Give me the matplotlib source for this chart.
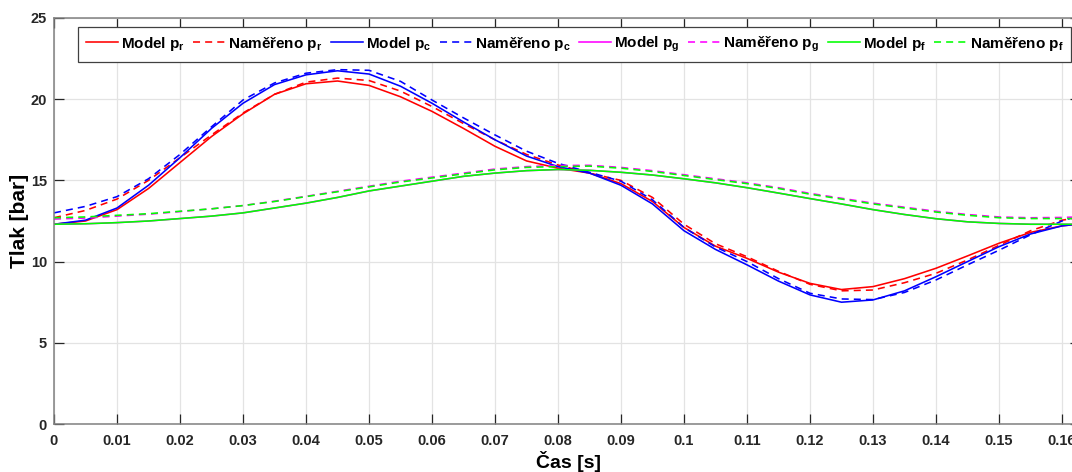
import matplotlib
matplotlib.use("Agg")
import matplotlib.pyplot as plt

plt.rcParams["font.family"] = ["Liberation Sans", "DejaVu Sans"]
plt.rcParams["font.weight"] = "bold"
plt.rcParams["mathtext.fontset"] = "custom"
plt.rcParams["mathtext.rm"] = "Liberation Sans:bold"
plt.rcParams["mathtext.it"] = "Liberation Sans:bold"
plt.rcParams["mathtext.bf"] = "Liberation Sans:bold"

# time samples [s]
time_s = [0.0, 0.005, 0.01, 0.015, 0.02, 0.025, 0.03, 0.035, 0.04, 0.045,
          0.05, 0.055, 0.06, 0.065, 0.07, 0.075, 0.08, 0.085, 0.09, 0.095,
          0.1, 0.105, 0.11, 0.115, 0.12, 0.125, 0.13, 0.135, 0.14, 0.145,
          0.15, 0.155, 0.16, 0.1625]

# pressures [bar]
model_pr = [12.3, 12.5, 13.2, 14.5, 16.1, 17.7, 19.1, 20.3, 20.95, 21.12,
            20.85, 20.15, 19.25, 18.2, 17.1, 16.2, 15.75, 15.45, 14.8, 13.7,
            12.1, 10.95, 10.2, 9.35, 8.66, 8.28, 8.46, 8.95, 9.59, 10.35,
            11.13, 11.8, 12.2, 12.3]
meas_pr = [12.7, 13.15, 13.85, 15.0, 16.4, 17.8, 19.15, 20.3, 21.05, 21.3,
           21.15, 20.5, 19.55, 18.5, 17.5, 16.6, 15.95, 15.45, 15.0, 13.95,
           12.3, 11.1, 10.3, 9.4, 8.6, 8.2, 8.25, 8.7, 9.28, 10.1,
           11.0, 11.9, 12.55, 12.7]
model_pc = [12.3, 12.55, 13.3, 14.7, 16.4, 18.2, 19.75, 20.9, 21.5, 21.75,
            21.55, 20.8, 19.75, 18.6, 17.5, 16.5, 15.85, 15.45, 14.7, 13.55,
            11.9, 10.75, 9.8, 8.8, 7.95, 7.5, 7.64, 8.2, 9.07, 10.0,
            10.92, 11.7, 12.2, 12.3]
meas_pc = [13.0, 13.4, 14.0, 15.1, 16.6, 18.3, 19.95, 21.0, 21.6, 21.82,
           21.78, 21.1, 19.95, 18.85, 17.8, 16.8, 16.05, 15.5, 14.95, 13.8,
           12.1, 10.9, 10.0, 8.95, 8.05, 7.7, 7.66, 8.1, 8.87, 9.8,
           10.7, 11.65, 12.5, 12.8]
model_pg = [12.3, 12.33, 12.4, 12.5, 12.65, 12.8, 13.0, 13.3, 13.6, 13.95,
            14.35, 14.65, 14.95, 15.25, 15.45, 15.6, 15.67, 15.62, 15.5, 15.33,
            15.1, 14.85, 14.55, 14.22, 13.88, 13.55, 13.2, 12.9, 12.64, 12.45,
            12.35, 12.3, 12.3, 12.3]
meas_pg = [12.62, 12.68, 12.8, 12.92, 13.08, 13.25, 13.45, 13.72, 14.02, 14.33,
           14.64, 14.95, 15.2, 15.45, 15.7, 15.85, 15.92, 15.93, 15.8, 15.6,
           15.35, 15.1, 14.85, 14.55, 14.2, 13.9, 13.6, 13.35, 13.1, 12.9,
           12.75, 12.7, 12.72, 12.75]
model_pf = [12.3, 12.33, 12.4, 12.5, 12.65, 12.8, 13.0, 13.3, 13.6, 13.95,
            14.35, 14.65, 14.95, 15.25, 15.45, 15.6, 15.67, 15.62, 15.5, 15.33,
            15.1, 14.85, 14.55, 14.22, 13.88, 13.55, 13.2, 12.9, 12.64, 12.45,
            12.35, 12.3, 12.3, 12.3]
meas_pf = [12.7, 12.75, 12.85, 12.95, 13.1, 13.25, 13.45, 13.7, 14.0, 14.3,
           14.6, 14.9, 15.15, 15.4, 15.65, 15.8, 15.85, 15.88, 15.75, 15.55,
           15.3, 15.05, 14.8, 14.5, 14.15, 13.85, 13.55, 13.3, 13.05, 12.85,
           12.7, 12.65, 12.65, 12.65]

series = [
    ("Model $\\mathregular{p_r}$", model_pr, "#ff0000", "-"),
    ("Naměřeno $\\mathregular{p_r}$", meas_pr, "#ff0000", "--"),
    ("Model $\\mathregular{p_c}$", model_pc, "#0000ff", "-"),
    ("Naměřeno $\\mathregular{p_c}$", meas_pc, "#0000ff", "--"),
    ("Model $\\mathregular{p_g}$", model_pg, "#ff00ff", "-"),
    ("Naměřeno $\\mathregular{p_g}$", meas_pg, "#ff00ff", "--"),
    ("Model $\\mathregular{p_f}$", model_pf, "#00ff00", "-"),
    ("Naměřeno $\\mathregular{p_f}$", meas_pf, "#00ff00", "--"),
]

W, H = 1072, 472
fig = plt.figure(figsize=(W / 100, H / 100), dpi=100)
ax_left, ax_bottom, ax_w, ax_h = 54, 48, 1026, 406
ax = fig.add_axes([ax_left / W, ax_bottom / H, ax_w / W, ax_h / H])

for label, values, color, style in series:
    line, = ax.plot(time_s, values, color=color, linestyle=style, lw=1.15, label=label)
    if style == "--":
        line.set_dashes((4.4, 3.2))

ax.set_xlim(0, ax_w / 6300)
ax.set_ylim(0, 25)
ax.set_xticks([i / 100 for i in range(17)])
ax.set_xticklabels(["0"] + [f"{i / 100:g}" for i in range(1, 17)])
ax.set_yticks([0, 5, 10, 15, 20, 25])

ax.grid(True, color="#e3e3e3", lw=0.9)
ax.set_axisbelow(True)
for s in ax.spines.values():
    s.set_color("#808080")
    s.set_linewidth(1.1)

ax.tick_params(axis="both", direction="in", length=7, width=0.9, color="#262626",
               labelsize=10.5, labelcolor="#262626", top=True, right=True)
ax.tick_params(axis="x", pad=7)
ax.tick_params(axis="y", pad=5)
for lab in ax.get_xticklabels() + ax.get_yticklabels():
    lab.set_fontweight("bold")

ax.set_xlabel("Čas [s]", fontsize=14, fontweight="bold")
ax.set_ylabel("Tlak [bar]", fontsize=15, fontweight="bold")
ax.xaxis.set_label_coords((569 - ax_left) / ax_w, -0.066)
ax.yaxis.set_label_coords((29 - ax_left) / ax_w, 0.5)

leg = ax.legend(loc="upper left", bbox_to_anchor=((78 - ax_left) / ax_w, (424 - 27) / ax_h),
                ncol=8, frameon=True, fancybox=False, borderaxespad=0,
                prop={"weight": "bold", "size": 11}, handlelength=2.1,
                handletextpad=0.2, columnspacing=0.55, borderpad=0.5)
leg.get_frame().set_edgecolor("#404040")
leg.get_frame().set_linewidth(0.9)
leg.get_frame().set_alpha(1)

fig.savefig("out.png", dpi=100)
